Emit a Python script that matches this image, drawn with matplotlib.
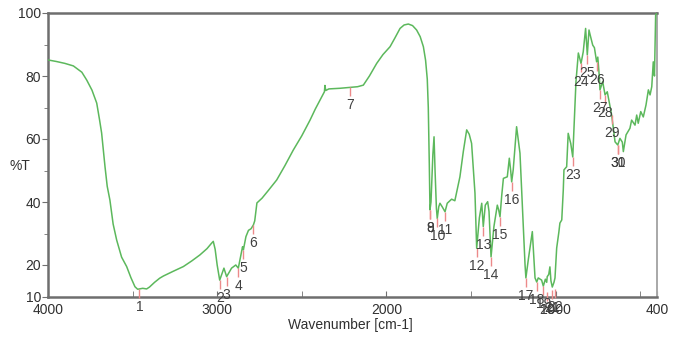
import matplotlib
matplotlib.use("Agg")
import matplotlib.pyplot as plt

# ---- data ----
wavenumber = [4000, 3950, 3900, 3850, 3800, 3771, 3740, 3712, 3695, 3683, 3663, 3650,
              3634, 3615, 3594, 3565, 3535, 3510, 3486, 3470, 3440, 3417, 3400, 3370,
              3340, 3318, 3260, 3200, 3150, 3102, 3060, 3035, 3023, 3012, 3000, 2985,
              2960, 2944, 2915, 2890, 2875, 2860, 2850, 2845, 2830, 2815, 2800, 2786,
              2778, 2765, 2735, 2700, 2648, 2600, 2550, 2500, 2451, 2420, 2382, 2366,
              2363, 2358, 2340, 2274, 2215, 2170, 2136, 2100, 2057, 2020, 1978, 1950,
              1919, 1895, 1870, 1845, 1821, 1800, 1781, 1768, 1758, 1752, 1746, 1742,
              1736, 1725, 1718, 1712, 1704, 1699, 1690, 1683, 1670, 1653, 1640, 1614,
              1595, 1565, 1545, 1525, 1510, 1496, 1476, 1466, 1450, 1436, 1427, 1415,
              1401, 1393, 1381, 1364, 1344, 1336, 1328, 1318, 1308, 1285, 1273, 1265,
              1259, 1250, 1230, 1210, 1190, 1180, 1175, 1160, 1137, 1128, 1121, 1111,
              1102, 1082, 1072, 1060, 1052, 1049, 1040, 1033, 1027, 1019, 1009, 1003,
              993, 980, 974, 963, 954, 950, 934, 925, 910, 898, 879, 865, 849, 836, 822,
              812, 802, 795, 780, 770, 757, 750, 741, 737, 721, 707, 694, 680, 668, 648,
              632, 619, 605, 599, 583, 560, 550, 530, 520, 511, 496, 481, 465, 451, 441,
              431, 422, 415, 408, 400]
transmittance = [85.1, 84.6, 84.0, 83.2, 81.2, 78.7, 75.5, 71.4, 66.0, 61.9, 51.2, 45.0,
                 40.6, 33.0, 27.9, 22.5, 19.5, 16.0, 13.1, 12.3, 12.6, 12.4, 13.0, 14.5,
                 15.8, 16.5, 18.0, 19.5, 21.3, 23.2, 25.2, 26.8, 27.5, 25.0, 20.0, 15.2,
                 19.0, 16.3, 19.0, 20.0, 19.0, 23.0, 25.8, 24.8, 29.0, 31.0, 31.5, 32.7,
                 34.0, 39.7, 41.2, 43.5, 47.0, 51.5, 56.5, 61.0, 66.0, 69.5, 73.4, 75.0,
                 77.0, 75.4, 75.9, 76.1, 76.4, 76.6, 77.1, 80.0, 84.0, 86.8, 89.3, 92.0,
                 95.1, 96.2, 96.5, 96.0, 94.6, 92.5, 89.3, 85.0, 79.0, 70.0, 52.0, 37.5,
                 40.0, 55.0, 60.7, 50.0, 38.0, 34.8, 38.5, 39.6, 38.5, 36.9, 39.6, 40.9,
                 40.4, 48.0, 56.0, 62.9, 61.5, 58.6, 42.8, 25.3, 35.0, 39.6, 32.2, 39.0,
                 40.1, 37.0, 22.6, 32.2, 39.0, 37.5, 35.3, 42.0, 47.5, 48.0, 53.9, 50.0,
                 46.4, 50.2, 63.9, 55.5, 32.2, 20.0, 15.9, 22.0, 30.6, 22.0, 15.9, 14.6,
                 15.9, 15.2, 13.3, 15.5, 14.5, 16.3, 17.0, 19.4, 15.0, 13.0, 14.5, 15.9,
                 25.4, 30.5, 33.3, 34.3, 43.8, 50.2, 51.2, 61.8, 58.6, 54.3, 78.2, 87.3,
                 84.0, 87.7, 95.1, 86.7, 94.6, 93.0, 89.8, 89.0, 84.5, 86.0, 79.8, 75.6,
                 78.2, 74.0, 75.0, 71.0, 67.6, 59.1, 58.1, 60.2, 59.0, 56.0, 61.3, 63.4,
                 66.0, 64.4, 67.6, 65.0, 68.7, 67.0, 70.8, 75.6, 74.0, 76.6, 84.5, 80.0,
                 99.4, 100.0]

peak_labels = ["1", "2", "3", "4", "5", "6", "7", "8", "9", "10", "11", "12", "13", "14",
               "15", "16", "17", "18", "19", "20", "21", "22", "23", "24", "25", "26",
               "27", "28", "29", "30", "31"]
peak_wn = [3460, 2985, 2944, 2875, 2845, 2786, 2215, 1742, 1740, 1699, 1653, 1466, 1427,
           1381, 1328, 1259, 1175, 1111, 1072, 1049, 1019, 1003, 898, 849, 812, 757,
           737, 707, 668, 632, 630]
peak_t = [12.4, 15.2, 16.3, 19.0, 24.8, 32.7, 76.4, 37.5, 37.5, 34.8, 36.9, 25.3, 32.2,
          22.6, 35.3, 46.4, 15.9, 14.6, 13.3, 11.5, 12.0, 12.5, 54.3, 84.0, 86.7, 84.5,
          75.6, 74.0, 67.6, 58.1, 58.1]

x_ticks = [4000, 3000, 2000, 1000, 400]
y_ticks = [10, 20, 40, 60, 80, 100]

plt.rcParams["font.family"] = ["Liberation Sans", "DejaVu Sans"]

W, H, DPI = 679, 347, 100
fig = plt.figure(figsize=(W / DPI, H / DPI), dpi=DPI)
ax = fig.add_axes([48 / W, 1 - 296.5 / H, (657 - 48) / W, (296.5 - 13) / H])

ax.plot(wavenumber, transmittance, color="#5cb85c", lw=1.1, zorder=3)

ax.set_xlim(4000, 400)
ax.set_ylim(10, 100)

# peak markers and numbers
px_per_unit = (296.5 - 13) / 90.0
for lab, w, t in zip(peak_labels, peak_wn, peak_t):
    ax.vlines(w, t - 9 / px_per_unit, t, color="#ec8a8a", lw=1.0, zorder=4,
              clip_on=False)
    ax.annotate(lab, xy=(w, t), xytext=(0, -8), textcoords="offset points",
                ha="center", va="top", fontsize=10, color="#404040",
                annotation_clip=False, zorder=5)

# axes styling
ax.set_xticks(x_ticks)
ax.set_xticklabels([str(v) for v in x_ticks])
ax.set_xticks([3500, 2500, 1500, 500], minor=True)
ax.set_yticks(y_ticks)
ax.set_yticklabels([str(v) for v in y_ticks])
ax.set_yticks([30, 50, 70, 90], minor=True)
ax.tick_params(axis="x", which="both", direction="in", length=4, color="#707070",
               labelsize=10, labelcolor="#303030", pad=5)
ax.tick_params(axis="y", which="major", direction="out", length=4, color="#707070",
               labelsize=10, labelcolor="#303030", pad=1)
ax.tick_params(axis="y", which="minor", direction="out", length=3, color="#707070")

for side in ["left", "bottom", "top"]:
    ax.spines[side].set_color("#6e6e6e")
    ax.spines[side].set_linewidth(1.8)
ax.spines["right"].set_color("#a8a8a8")
ax.spines["right"].set_linewidth(1.4)

fig.text(350 / W, 1 - 325 / H, "Wavenumber [cm-1]", ha="center", va="center",
         fontsize=10, color="#303030")
fig.text(20 / W, 1 - 166 / H, "%T", ha="center", va="center", fontsize=10,
         color="#303030")

fig.savefig("out.png", dpi=DPI)
